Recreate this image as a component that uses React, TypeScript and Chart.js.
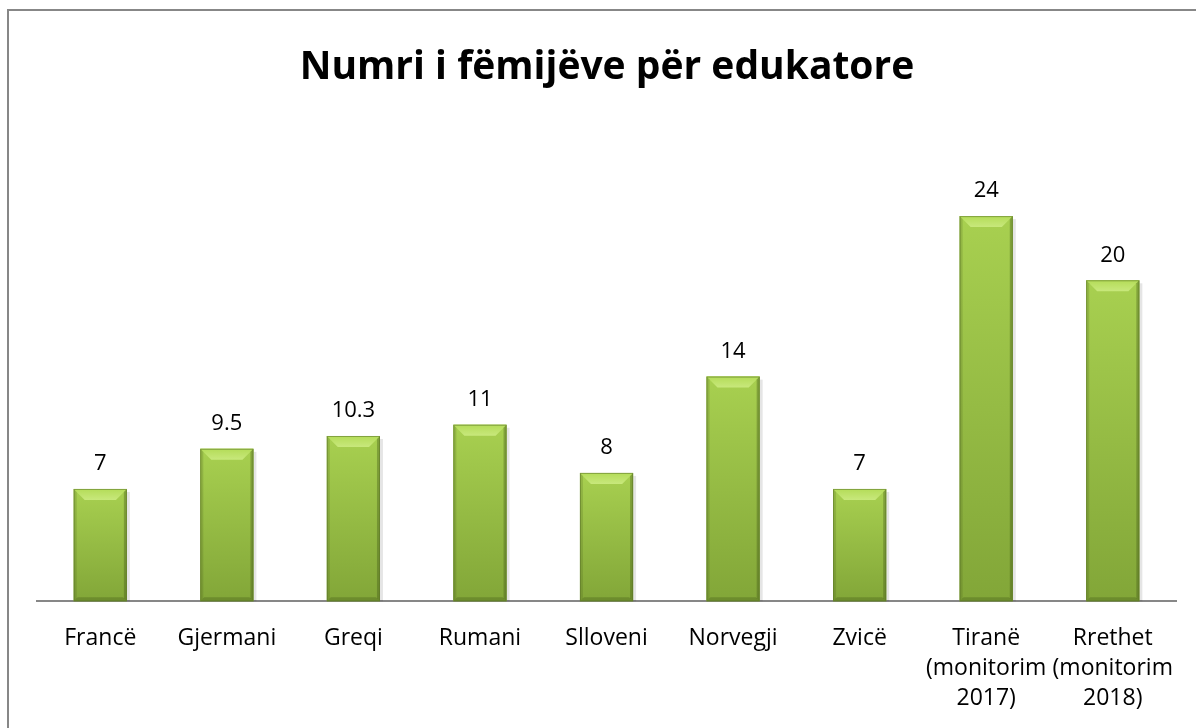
import React, { useEffect, useRef } from "react";
import { Chart, registerables } from "chart.js";

Chart.register(...registerables);

const TITLE = "Numri i fëmijëve për edukatore";
const categories: (string | string[])[] = [
  "Francë",
  "Gjermani",
  "Greqi",
  "Rumani",
  "Slloveni",
  "Norvegji",
  "Zvicë",
  ["Tiranë", "(monitorim", "2017)"],
  ["Rrethet", "(monitorim", "2018)"],
];
const values: number[] = [7, 9.5, 10.3, 11, 8, 14, 7, 24, 20];
const valueLabels: string[] = ["7", "9.5", "10.3", "11", "8", "14", "7", "24", "20"];

const FONT = "'Open Sans', 'Noto Sans', sans-serif";

const bevelPlugin = {
  id: "bevel",
  afterDatasetsDraw(chart: any) {
    const ctx = chart.ctx as CanvasRenderingContext2D;
    const meta = chart.getDatasetMeta(0);
    meta.data.forEach((bar: any, i: number) => {
      const { x, y, base, width } = bar.getProps(["x", "y", "base", "width"], true);
      const x0 = x - width / 2;
      const x1 = x + width / 2;
      const y0 = y;
      const y1 = base;
      const b = Math.min(11, (y1 - y0) / 2);
      ctx.save();
      // shadow
      ctx.fillStyle = "rgba(0,0,0,0.10)";
      ctx.fillRect(x1, y0 + 3, 3, y1 - y0 - 3);
      // body gradient
      const g = ctx.createLinearGradient(0, y0, 0, y1);
      g.addColorStop(0, "#a8d050");
      g.addColorStop(1, "#82a638");
      ctx.fillStyle = g;
      ctx.fillRect(x0, y0, width, y1 - y0);
      // top bevel
      const gt = ctx.createLinearGradient(0, y0, 0, y0 + b);
      gt.addColorStop(0, "#b4dc58");
      gt.addColorStop(1, "#c8e87c");
      ctx.fillStyle = gt;
      ctx.beginPath();
      ctx.moveTo(x0, y0);
      ctx.lineTo(x1, y0);
      ctx.lineTo(x1 - b, y0 + b);
      ctx.lineTo(x0 + b, y0 + b);
      ctx.closePath();
      ctx.fill();
      // left bevel
      ctx.fillStyle = "rgba(60,80,20,0.18)";
      ctx.beginPath();
      ctx.moveTo(x0, y0);
      ctx.lineTo(x0 + 3, y0 + 3);
      ctx.lineTo(x0 + 3, y1 - 3);
      ctx.lineTo(x0, y1);
      ctx.closePath();
      ctx.fill();
      // right bevel
      ctx.fillStyle = "rgba(60,80,20,0.35)";
      ctx.beginPath();
      ctx.moveTo(x1, y0);
      ctx.lineTo(x1 - 3, y0 + 3);
      ctx.lineTo(x1 - 3, y1 - 3);
      ctx.lineTo(x1, y1);
      ctx.closePath();
      ctx.fill();
      // bottom bevel
      ctx.fillStyle = "rgba(60,80,20,0.3)";
      ctx.beginPath();
      ctx.moveTo(x0, y1);
      ctx.lineTo(x0 + 4, y1 - 4);
      ctx.lineTo(x1 - 4, y1 - 4);
      ctx.lineTo(x1, y1);
      ctx.closePath();
      ctx.fill();
      // edge
      ctx.strokeStyle = "rgba(90,115,40,0.55)";
      ctx.lineWidth = 1;
      ctx.strokeRect(x0 + 0.5, y0 + 0.5, width - 1, y1 - y0 - 1);
      // value label
      ctx.fillStyle = "#000";
      ctx.font = `22px ${FONT}`;
      ctx.textAlign = "center";
      ctx.textBaseline = "middle";
      ctx.fillText(valueLabels[i], x, y0 - 25);
      ctx.restore();
    });
  },
};

export default function App() {
  const ref = useRef<HTMLCanvasElement | null>(null);
  useEffect(() => {
    document.body.style.overflow = "hidden";
    if (!ref.current) return;
    const chart = new Chart(ref.current, {
      type: "bar",
      data: {
        labels: categories as any,
        datasets: [
          {
            data: values,
            backgroundColor: "#93bb45",
            borderWidth: 0,
            barPercentage: 0.42,
            categoryPercentage: 1,
          },
        ],
      },
      options: {
        animation: false,
        responsive: false,
        maintainAspectRatio: false,
        layout: { padding: { left: 28, right: 19, top: 0, bottom: 17 } },
        plugins: {
          legend: { display: false },
          tooltip: { enabled: false },
          title: {
            display: true,
            text: TITLE,
            color: "#000",
            font: { family: FONT, size: 39, weight: "bold" },
            padding: { top: 33, bottom: 29 },
          },
        },
        scales: {
          y: { display: false, min: 0, max: 30 },
          x: {
            grid: { display: false, drawTicks: false },
            border: { display: true, color: "#878787", width: 2 },
            ticks: {
              color: "#000",
              font: { family: FONT, size: 23, lineHeight: 1.3 },
              padding: 22,
              maxRotation: 0,
              minRotation: 0,
              autoSkip: false,
            },
          },
        },
      },
      plugins: [bevelPlugin],
    });
    return () => chart.destroy();
  }, []);
  return (
    <div
      style={{
        position: "fixed",
        left: 7,
        top: 9,
        width: 1200,
        height: 745,
        borderLeft: "2px solid #878787",
        borderTop: "2px solid #878787",
        overflow: "hidden",
        background: "#fff",
      }}
    >
      <canvas ref={ref} width={1187} height={741} style={{ display: "block" }} />
    </div>
  );
}
